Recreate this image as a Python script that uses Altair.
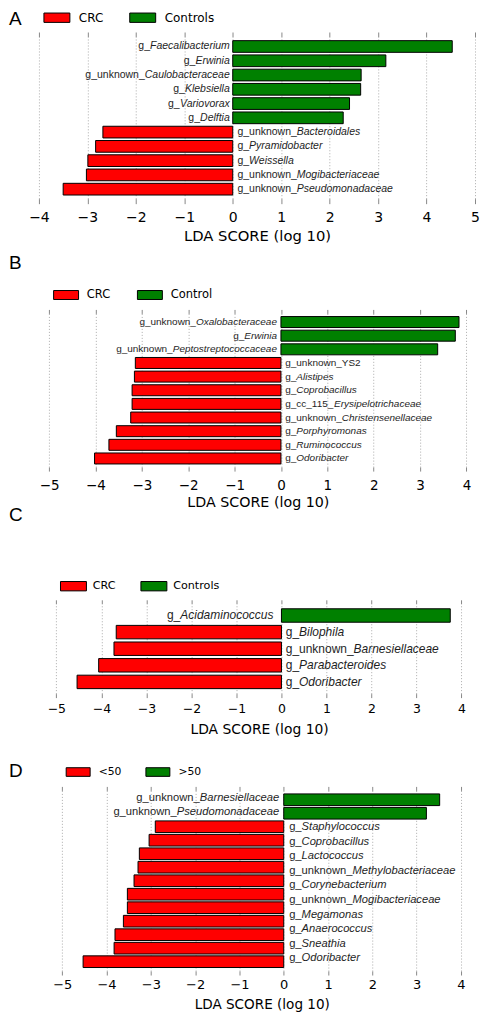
import altair as alt
import pandas as pd

# ---------------- data ----------------
A_letter = "A"
A_groups = ["CRC", "Controls"]
A_prefix = ["g_", "g_", "g_unknown_", "g_", "g_", "g_",
            "g_unknown_", "g_", "g_", "g_unknown_", "g_unknown_"]
A_genus = ["Faecalibacterium", "Erwinia", "Caulobacteraceae", "Klebsiella", "Variovorax", "Delftia",
           "Bacteroidales", "Pyramidobacter", "Weissella", "Mogibacteriaceae", "Pseudomonadaceae"]
A_lda = [4.53, 3.16, 2.65, 2.64, 2.41, 2.28, -2.68, -2.83, -2.99, -3.02, -3.50]
A_ticks = [-4, -3, -2, -1, 0, 1, 2, 3, 4, 5]

B_letter = "B"
B_groups = ["CRC", "Control"]
B_prefix = ["g_unknown_", "g_", "g_unknown_", "g_unknown_YS2", "g_", "g_",
            "g_cc_115_", "g_unknown_", "g_", "g_", "g_"]
B_genus = ["Oxalobacteraceae", "Erwinia", "Peptostreptococcaceae", "", "Alistipes", "Coprobacillus",
           "Erysipelotrichaceae", "Christensenellaceae", "Porphyromonas", "Ruminococcus", "Odoribacter"]
B_lda = [3.84, 3.76, 3.38, -3.14, -3.16, -3.21, -3.21, -3.24, -3.55, -3.71, -4.02]
B_ticks = [-5, -4, -3, -2, -1, 0, 1, 2, 3, 4]

C_letter = "C"
C_groups = ["CRC", "Controls"]
C_prefix = ["g_", "g_", "g_unknown_", "g_", "g_"]
C_genus = ["Acidaminococcus", "Bilophila", "Barnesiellaceae", "Parabacteroides", "Odoribacter"]
C_lda = [3.75, -3.67, -3.72, -4.06, -4.54]
C_ticks = [-5, -4, -3, -2, -1, 0, 1, 2, 3, 4]

D_letter = "D"
D_groups = ["<50", ">50"]
D_lda = [3.52, 3.22, -2.90, -3.04, -3.26, -3.29, -3.38, -3.53, -3.53, -3.62, -3.81, -3.83, -4.53]
D_prefix = ["g_unknown_", "g_unknown_", "g_", "g_", "g_", "g_unknown_", "g_",
            "g_unknown_", "g_", "g_", "g_", "g_"]
D_genus = ["Barnesiellaceae", "Pseudomonadaceae", "Staphylococcus", "Coprobacillus", "Lactococcus",
           "Methylobacteriaceae", "Corynebacterium", "Mogibacteriaceae", "Megamonas", "Anaerococcus",
           "Sneathia", "Odoribacter"]
D_ticks = [-5, -4, -3, -2, -1, 0, 1, 2, 3, 4]

# ---------------- styling / layout ----------------
RED = "#ff0000"
GREEN = "#008000"
TICK = "#888888"
GRID = "#ababab"
TEXT = "#1e1e1e"
LABEL_FONT = "Liberation Sans"
AXIS_FONT = "DejaVu Sans"
W = 437
LETTER_X = -30
# spacer above each panel: (height, letter top inside the spacer)
SPACERS = {"A": (27, 0), "B": (115, 55), "C": (137, 38.6), "D": (97, 68.6)}

# Liberation Sans (Arial metrics) advance widths, 1/1000 em
ADV = {}
for ch, w in zip("ABCDEFGHIJKLMNOPQRSTUVWXYZ",
                 [667, 667, 722, 722, 667, 611, 778, 722, 278, 500, 667, 556, 833,
                  722, 778, 667, 778, 722, 667, 611, 722, 667, 944, 667, 667, 611]):
    ADV[ch] = w
for ch, w in zip("abcdefghijklmnopqrstuvwxyz",
                 [556, 556, 500, 556, 556, 278, 556, 556, 222, 222, 500, 222, 833,
                  556, 556, 556, 556, 333, 500, 278, 556, 500, 722, 500, 500, 500]):
    ADV[ch] = w
ADV["_"] = 556
for d in "0123456789":
    ADV[d] = 556


def text_width(s, fs):
    return sum(ADV.get(c, 556) for c in s) * fs / 1000.0


LAYOUT = {
    "A": dict(h=162, xdom=[-4, 5], tick_fs=14, tick_size=5, label_pad=6.5, title_fs=14.8,
              title_pad=4.9, title_x=218.5, pin=0.18, pout=0.255, text_fs=10.5, gap_l=4.7,
              gap_r=3, leg_x=11, leg_y=-26.5, sym_w=26, leg_fs=12, leg_lo=15, leg_cp=24),
    "B": dict(h=154, xdom=[-5.219, 4.185], tick_fs=13.5, tick_size=4, label_pad=7.2,
              title_fs=14.3, title_pad=3.4, title_x=219.4, pin=0.195, pout=0.23, text_fs=10,
              gap_l=4.3, gap_r=4, leg_x=20.2, leg_y=-25.7, sym_w=25, leg_fs=11.5,
              leg_lo=13.8, leg_cp=24),
    "C": dict(h=90, xdom=[-5.387, 4.30], tick_fs=12.5, tick_size=4, label_pad=5.2,
              title_fs=13.9, title_pad=6.8, title_x=220.6, pin=0.19, pout=0.3, text_fs=12,
              gap_l=4.3, gap_r=8, leg_x=27.6, leg_y=-24.8, sym_w=26, leg_fs=11.2,
              leg_lo=12.3, leg_cp=22.6),
    "D": dict(h=181, xdom=[-5.527, 4.318], tick_fs=13, tick_size=4, label_pad=3.5,
              title_fs=13.6, title_pad=6.5, title_x=223.3, pin=0.135, pout=0.26, text_fs=11.2,
              gap_l=5.4, gap_r=4.6, leg_x=32.8, leg_y=-25, sym_w=24, leg_fs=10.8,
              leg_lo=14.1, leg_cp=21.9, label_pin=0, label_pout=0.18, label_align=0),
}


def build_panel(key, prefix, genus, lda, groups, ticks):
    L = LAYOUT[key]
    n = len(lda)
    n_pos = sum(1 for v in lda if v > 0)
    xs = alt.Scale(domain=L["xdom"], nice=False, zero=False)
    ys = alt.Scale(type="band", domain=list(range(n)), paddingInner=L["pin"],
                   paddingOuter=L["pout"])

    bars_df = pd.DataFrame({
        "row": list(range(n)),
        "lda": lda,
        "grp": [groups[1] if v > 0 else groups[0] for v in lda],
    })
    sw = L["sym_w"]
    legend = alt.Legend(
        orient="none", legendX=L["leg_x"], legendY=L["leg_y"], direction="horizontal",
        title=None, symbolType="M-2,-0.72H2V0.72H-2Z", symbolSize=(sw / 2.0) ** 2,
        symbolStrokeColor="black", symbolStrokeWidth=1, symbolOffset=0, symbolOpacity=1,
        labelFont=AXIS_FONT, labelFontSize=L["leg_fs"], labelColor="black",
        labelOffset=L["leg_lo"], columnPadding=L["leg_cp"], padding=0,
    )
    bottom_axis = alt.Axis(
        orient="bottom", values=ticks, format="d", grid=True, gridDash=[1, 2],
        gridColor=GRID, gridWidth=1, domain=False, ticks=True, tickSize=L["tick_size"],
        tickColor=TICK, tickWidth=1, labelFont=AXIS_FONT, labelFontSize=L["tick_fs"],
        labelColor="black", labelPadding=L["label_pad"], labelFlush=False,
        labelOverlap=False, title="LDA SCORE (log 10)", titleFont=AXIS_FONT,
        titleFontSize=L["title_fs"], titleFontWeight="normal", titleColor="black",
        titlePadding=L["title_pad"], titleX=L["title_x"],
    )
    top_axis = alt.Axis(
        orient="top", values=ticks, labels=False, grid=False, domain=False, ticks=True,
        tickSize=L["tick_size"], tickColor=TICK, tickWidth=1, title=None,
    )
    bars = alt.Chart(bars_df).mark_bar(stroke="black", strokeWidth=1).encode(
        x=alt.X("lda:Q", scale=xs, axis=bottom_axis),
        x2=alt.datum(0),
        y=alt.Y("row:O", scale=ys, axis=None),
        color=alt.Color("grp:N", scale=alt.Scale(domain=groups, range=[RED, GREEN]),
                        legend=legend),
    )

    m = len(prefix)
    separate = m != n
    if separate:
        lys = alt.Scale(type="band", domain=list(range(m)), paddingInner=L["label_pin"],
                        paddingOuter=L["label_pout"], align=L["label_align"])
        yfield = "lrow"
    else:
        lys = ys
        yfield = "row"

    fs = L["text_fs"]
    groups_txt = {}
    for i in range(m):
        p, g = prefix[i], genus[i]
        if i < n_pos:
            if g:
                groups_txt.setdefault(("right", -L["gap_r"], "italic"), []).append((i, g))
            dx = round(-L["gap_r"] - text_width(g, fs), 1)
            groups_txt.setdefault(("right", dx, "normal"), []).append((i, p))
        else:
            groups_txt.setdefault(("left", L["gap_l"], "normal"), []).append((i, p))
            if g:
                dx = round(L["gap_l"] + text_width(p, fs), 1)
                groups_txt.setdefault(("left", dx, "italic"), []).append((i, g))

    text_layers = []
    for k, ((align, dx, style), items) in enumerate(groups_txt.items()):
        df = pd.DataFrame({yfield: [r for r, _ in items], "t": [t for _, t in items],
                           "z": [0] * len(items)})
        text_layers.append(
            alt.Chart(df).mark_text(align=align, dx=dx, fontStyle=style, baseline="middle",
                                    font=LABEL_FONT, fontSize=fs, color=TEXT).encode(
                x=alt.X("z:Q", scale=xs, axis=top_axis if k == 0 else None),
                y=alt.Y(f"{yfield}:O", scale=lys, axis=None),
                text="t:N",
            )
        )

    ch = alt.layer(bars, *text_layers).properties(width=W, height=L["h"])
    if separate:
        ch = ch.resolve_scale(y="independent")
    return ch


def spacer(key, letter):
    h, ly = SPACERS[key]
    return alt.Chart(pd.DataFrame({"letter": [letter]})).mark_text(
        align="left", baseline="top", font=LABEL_FONT, fontSize=19, color="black"
    ).encode(x=alt.value(LETTER_X), y=alt.value(ly), text="letter:N").properties(
        width=W, height=h)


pA = build_panel("A", A_prefix, A_genus, A_lda, A_groups, A_ticks)
pB = build_panel("B", B_prefix, B_genus, B_lda, B_groups, B_ticks)
pC = build_panel("C", C_prefix, C_genus, C_lda, C_groups, C_ticks)
pD = build_panel("D", D_prefix, D_genus, D_lda, D_groups, D_ticks)

chart = (
    alt.vconcat(spacer("A", A_letter), pA, spacer("B", B_letter), pB,
                spacer("C", C_letter), pC, spacer("D", D_letter), pD,
                spacing=0, bounds="flush")
    .resolve_scale(color="independent")
    .properties(padding=0, background="white")
    .configure_view(stroke="transparent")
)

chart.save("out.html", embed_options={"renderer": "svg", "actions": False})
